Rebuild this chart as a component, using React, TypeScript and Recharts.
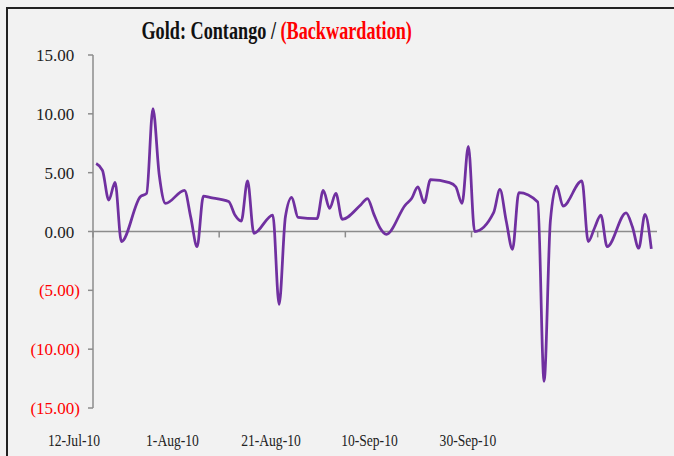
import { LineChart, Line, XAxis, YAxis, ReferenceLine } from "recharts";

// trading days and the contango / (backwardation) value
const DATES = [
  "2010-07-12", "2010-07-13", "2010-07-14", "2010-07-15", "2010-07-16",
  "2010-07-19", "2010-07-20", "2010-07-21", "2010-07-22", "2010-07-23",
  "2010-07-26", "2010-07-27", "2010-07-28", "2010-07-29", "2010-07-30",
  "2010-08-02", "2010-08-03", "2010-08-04", "2010-08-05", "2010-08-06",
  "2010-08-09", "2010-08-10", "2010-08-11", "2010-08-12", "2010-08-13",
  "2010-08-16", "2010-08-17", "2010-08-18", "2010-08-19", "2010-08-20",
  "2010-08-23", "2010-08-24", "2010-08-25", "2010-08-26", "2010-08-27",
  "2010-08-30", "2010-08-31", "2010-09-01", "2010-09-02", "2010-09-03",
  "2010-09-06", "2010-09-07", "2010-09-08", "2010-09-09", "2010-09-10",
  "2010-09-13", "2010-09-14", "2010-09-15", "2010-09-16", "2010-09-17",
  "2010-09-20", "2010-09-21", "2010-09-22", "2010-09-23", "2010-09-24",
  "2010-09-27", "2010-09-28", "2010-09-29", "2010-09-30", "2010-10-01",
  "2010-10-04", "2010-10-05", "2010-10-06", "2010-10-07", "2010-10-08",
];

const VALUES = [
  5.78, 5.2, 2.67, 4.17, -0.86,
  2.95, 3.24, 10.44, 4.8, 2.39,
  3.5, 1.2, -1.29, 3.0, 2.9,
  2.55, 1.4, 0.89, 4.3, -0.15,
  1.4, -6.2, 1.25, 2.9, 1.2,
  1.1, 3.5, 1.97, 3.24, 1.03,
  2.3, 2.8, 1.5, 0.3, -0.24,
  2.25, 2.8, 3.8, 2.44, 4.4,
  4.15, 3.8, 2.39, 7.24, 0.0,
  1.6, 3.57, 0.9, -1.51, 3.3,
  2.5, -12.73, 0.9, 3.86, 2.16,
  4.3, -0.86, 0.3, 1.4, -1.29,
  1.59, 0.4, -1.42, 1.46, -1.48,
];

const Y_TICKS = [15, 10, 5, 0, -5, -10, -15];
const TICK_DATES = ["2010-07-12", "2010-08-01", "2010-08-21", "2010-09-10", "2010-09-30"];
const TICK_LABELS = ["12-Jul-10", "1-Aug-10", "21-Aug-10", "10-Sep-10", "30-Sep-10"];

const DAY_MS = 86400000;
const START = Date.parse(DATES[0]);
const dayOf = (d: string) => (Date.parse(d) - START) / DAY_MS;

const data = DATES.map((d, i) => ({ day: dayOf(d), value: VALUES[i] }));
const tickDays = TICK_DATES.map(dayOf);

const FONT = "'Liberation Serif', 'DejaVu Serif', serif";
const AXIS_COLOR = "#8c8c8c";

function YTick({ x, y, payload }: any) {
  const v = payload.value as number;
  const neg = v < 0;
  return (
    <text x={x} y={y} dy="0.355em" textAnchor="end" fontFamily={FONT} fontSize={17} fill={neg ? "#ff0000" : "#222"}>
      {neg ? `(${Math.abs(v).toFixed(2)})` : v.toFixed(2)}
      {!neg && <tspan fill="none">)</tspan>}
    </text>
  );
}

function XTick({ x, y, payload }: any) {
  const i = tickDays.indexOf(payload.value);
  return (
    <g transform={`translate(${x},${y}) scale(0.8,1)`}>
      <text x={0} y={0} dy="0.71em" textAnchor="middle" fontFamily={FONT} fontSize={17} fill="#222">
        {TICK_LABELS[i]}
      </text>
    </g>
  );
}

export default function App() {
  return (
    <div
      style={{
        position: "fixed",
        left: 0,
        top: 0,
        width: 674,
        height: 456,
        overflow: "hidden",
        background: "#f2f2f2",
      }}
    >
      <div
        style={{
          position: "absolute",
          left: 6,
          top: 7,
          width: 720,
          height: 500,
          border: "2px solid #222",
        }}
      />
      <svg width={674} height={50} style={{ position: "absolute", left: 0, top: 0 }}>
        <g transform="translate(276.7,39) scale(0.7,1)">
          <text x={0} y={0} textAnchor="middle" fontFamily={FONT} fontWeight="bold" fontSize={26}>
            <tspan fill="#111">Gold: Contango / </tspan>
            <tspan fill="#ff0000">(Backwardation)</tspan>
          </text>
        </g>
      </svg>
      <div style={{ position: "absolute", left: 0, top: 0 }}>
        <LineChart width={674} height={456} data={data} margin={{ top: 55, right: 17, bottom: 8, left: 13 }}>
          <XAxis
            xAxisId="labels"
            dataKey="day"
            type="number"
            domain={[3.86, 118.4]}
            ticks={tickDays}
            interval={0}
            allowDataOverflow
            axisLine={false}
            tickLine={false}
            tickSize={0}
            tickMargin={26}
            height={40}
            tick={<XTick />}
          />
          <XAxis xAxisId="days" dataKey="day" type="number" domain={[-0.5, 88.9]} height={0} hide />
          <YAxis
            domain={[-15, 15]}
            ticks={Y_TICKS}
            interval={0}
            width={80}
            tickSize={5}
            tickMargin={8}
            axisLine={{ stroke: AXIS_COLOR, strokeWidth: 1.5 }}
            tickLine={{ stroke: AXIS_COLOR, strokeWidth: 1.5 }}
            tick={<YTick />}
          />
          <ReferenceLine xAxisId="days" y={0} stroke={AXIS_COLOR} strokeWidth={1.5} />
          {tickDays.map((t) => (
            <ReferenceLine
              key={t}
              xAxisId="days"
              segment={[{ x: t - 0.5, y: 0 }, { x: t - 0.5, y: -0.5 }]}
              stroke={AXIS_COLOR}
              strokeWidth={1.5}
              ifOverflow="visible"
            />
          ))}
          <Line
            xAxisId="days"
            type="monotone"
            dataKey="value"
            stroke="#7030a0"
            strokeWidth={2.75}
            dot={false}
            isAnimationActive={false}
          />
        </LineChart>
      </div>
    </div>
  );
}
